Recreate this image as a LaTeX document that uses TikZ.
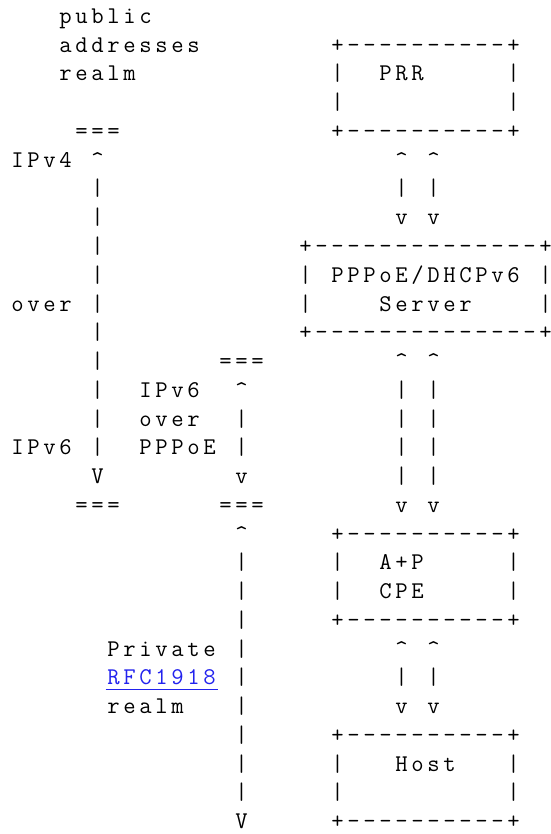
\documentclass[tikz,border=0pt]{standalone}
\usepackage{fontspec}
\definecolor{linkblue}{RGB}{34,34,238}
\newlength\cellw
\setlength\cellw{16pt}
\newcommand\upcaret{\textasciicircum}
\def\asciiend{\asciiend}
\def\ascii#1{\asciiloop#1\asciiend}
\def\asciiloop#1{\ifx#1\asciiend\else\asciicell#1\expandafter\asciiloop\fi}
\def\asciicell#1{\ifx#1.\hbox to\cellw{\hss}\else\hbox to\cellw{\hss#1\hss}\fi}
\begin{document}
\begin{tikzpicture}[x=1pt,y=-1pt,
  row/.style={anchor=base west,inner sep=0pt,outer sep=0pt,
    font=\fontsize{24}{26}\selectfont\ttfamily,text=black}]
\fill[white] (0,0) rectangle (550,834);
\useasboundingbox (0,0) rectangle (550,834);
\node[row] (l0)  at (9.5,23.5)  {\ascii{...public}};
\node[row] (l1)  at (9.5,52.25) {\ascii{...addresses........+----------+}};
\node[row] (l2)  at (9.5,81.0)  {\ascii{...realm............|..PRR.....|}};
\node[row] (l3)  at (9.5,109.75) {\ascii{....................|..........|}};
\node[row] (l4)  at (9.5,138.5) {\ascii{....===.............+----------+}};
\node[row] (l5)  at (9.5,167.25) {\ascii{IPv4.\upcaret..................\upcaret.\upcaret}};
\node[row] (l6)  at (9.5,196.0) {\ascii{.....|..................|.|}};
\node[row] (l7)  at (9.5,224.75) {\ascii{.....|..................v.v}};
\node[row] (l8)  at (9.5,253.5) {\ascii{.....|............+--------------+}};
\node[row] (l9)  at (9.5,282.25) {\ascii{.....|............|.PPPoE/DHCPv6.|}};
\node[row] (l10) at (9.5,311.0) {\ascii{over.|............|....Server....|}};
\node[row] (l11) at (9.5,339.75) {\ascii{.....|............+--------------+}};
\node[row] (l12) at (9.5,368.5) {\ascii{.....|.......===........\upcaret.\upcaret}};
\node[row] (l13) at (9.5,397.25) {\ascii{.....|..IPv6..\upcaret.........|.|}};
\node[row] (l14) at (9.5,426.0) {\ascii{.....|..over..|.........|.|}};
\node[row] (l15) at (9.5,454.75) {\ascii{IPv6.|..PPPoE.|.........|.|}};
\node[row] (l16) at (9.5,483.5) {\ascii{.....V........v.........|.|}};
\node[row] (l17) at (9.5,512.25) {\ascii{....===......===........v.v}};
\node[row] (l18) at (9.5,541.0) {\ascii{..............\upcaret.....+----------+}};
\node[row] (l19) at (9.5,569.75) {\ascii{..............|.....|..A+P.....|}};
\node[row] (l20) at (9.5,598.5) {\ascii{..............|.....|..CPE.....|}};
\node[row] (l21) at (9.5,627.25) {\ascii{..............|.....+----------+}};
\node[row] (l22) at (9.5,656.0) {\ascii{......Private.|.........\upcaret.\upcaret}};
\node[row] (l23) at (9.5,684.75) {\ascii{..............|.........|.|}};
\node[row] (l24) at (9.5,713.5) {\ascii{......realm...|.........v.v}};
\node[row] (l25) at (9.5,742.25) {\ascii{..............|.....+----------+}};
\node[row] (l26) at (9.5,771.0) {\ascii{..............|.....|...Host...|}};
\node[row] (l27) at (9.5,799.75) {\ascii{..............|.....|..........|}};
\node[row] (l28) at (9.5,828.5) {\ascii{..............V.....+----------+}};
\node[row,text=linkblue] (rfc) at (105.5,684.75) {\ascii{RFC1918}};
\draw[linkblue,line width=1.4pt] ([yshift=-5pt]rfc.base west) -- ([yshift=-5pt]rfc.base east);
\end{tikzpicture}
\end{document}
